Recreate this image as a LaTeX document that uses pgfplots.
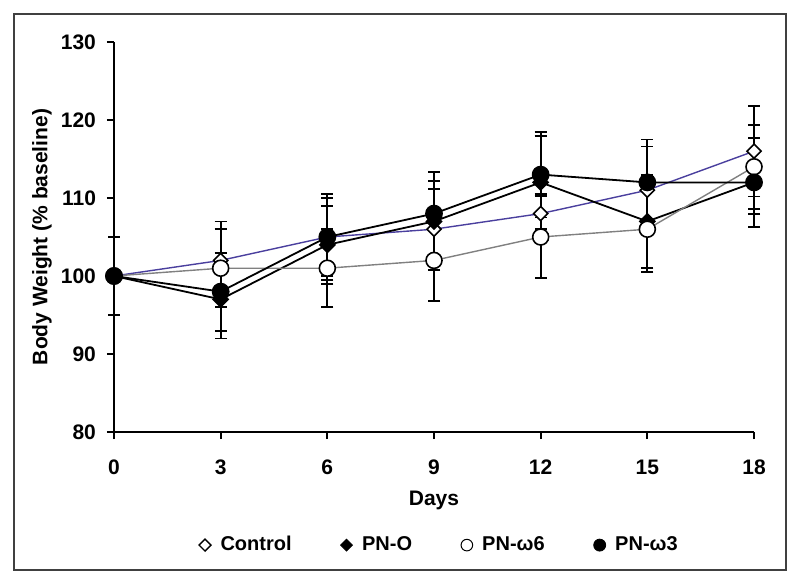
\documentclass[border=0pt]{standalone}
\usepackage{pgfplots}
\pgfplotsset{compat=1.18}
\usepackage{fontspec}
\setmainfont{Liberation Sans}
\definecolor{ctrlblue}{HTML}{4A3F9E}
\begin{document}
\begin{tikzpicture}
\begin{axis}[
  name=ax,
  width=320pt, height=195pt, scale only axis,
  xmin=0, xmax=18, ymin=80, ymax=130,
  xtick={0,3,...,18}, ytick={80,90,...,130},
  axis x line*=bottom, axis y line*=left,
  axis line style={line width=1pt, black},
  tick align=outside, major tick length=3.5pt,
  tick style={line width=1pt, black},
  /pgf/number format/assume math mode=true,
  ticklabel style={font=\fontsize{10.5}{12}\selectfont\bfseries},
  xticklabel style={yshift=-7pt},
  yticklabel style={xshift=-2pt},
  xlabel={Days}, ylabel={Body Weight (\% baseline)},
  label style={font=\fontsize{10.5}{12}\selectfont\bfseries},
  xlabel style={at={(axis description cs:0.5,-0.175)}, anchor=center},
  ylabel style={at={(axis description cs:-0.1125,0.5)}, anchor=center},
  clip=false,
  error bars/error bar style={line width=0.9pt, black},
  error bars/error mark options={rotate=90, mark size=3pt, line width=0.9pt, black},
]
\addplot[ctrlblue, line width=0.7pt, mark=square*, mark size=2.5pt,
  mark options={rotate=45, fill=white, draw=black, line width=0.8pt},
  error bars/.cd, y dir=both, y explicit]
  coordinates {(0,100) +- (0,5) (3,102) +- (0,5) (6,105) +- (0,5.5) (9,106) +- (0,5.2)
   (12,108) +- (0,2.5) (15,111) +- (0,5.6) (18,116) +- (0,5.8)};
\addplot[black, line width=0.9pt, mark=square*, mark size=2.6pt,
  mark options={rotate=45, fill=black, draw=black},
  error bars/.cd, y dir=both, y explicit]
  coordinates {(0,100) +- (0,5) (3,97) +- (0,5) (6,104) +- (0,5) (9,107) +- (0,5.2)
   (12,112) +- (0,6) (15,107) +- (0,6) (18,112) +- (0,4)};
\addplot[gray, line width=0.7pt, mark=*, mark size=4pt,
  mark options={fill=white, draw=black, line width=0.8pt},
  error bars/.cd, y dir=both, y explicit]
  coordinates {(0,100) +- (0,5) (3,101) +- (0,5) (6,101) +- (0,5) (9,102) +- (0,5.2)
   (12,105) +- (0,5.3) (15,106) +- (0,5.5) (18,114) +- (0,5.4)};
\addplot[black, line width=0.9pt, mark=*, mark size=4pt,
  mark options={fill=black, draw=black},
  error bars/.cd, y dir=both, y explicit]
  coordinates {(0,100) +- (0,5) (3,98) +- (0,5) (6,105) +- (0,5) (9,108) +- (0,5.3)
   (12,113) +- (0,5.5) (15,112) +- (0,5.5) (18,112) +- (0,5.7)};
\end{axis}
\begin{axis}[
  width=320pt, height=195pt, scale only axis, at={(ax.south west)}, anchor=south west,
  hide axis, xmin=0, xmax=1, ymin=0, ymax=1,
  legend columns=4,
  legend style={at={(axis description cs:0.51,-0.29)}, anchor=center, draw=none,
    font=\fontsize{10}{12}\selectfont\bfseries, /tikz/every even column/.append style={column sep=22.5pt}},
]
\addlegendimage{only marks, mark=square*, mark size=2.1pt, mark options={rotate=45, fill=white, draw=black, line width=0.7pt}}
\addlegendentry{\ Control}
\addlegendimage{only marks, mark=square*, mark size=2.1pt, mark options={rotate=45, fill=black, draw=black}}
\addlegendentry{\ PN-O}
\addlegendimage{only marks, mark=*, mark size=2.9pt, mark options={fill=white, draw=black, line width=0.5pt}}
\addlegendentry{\ PN-ω6}
\addlegendimage{only marks, mark=*, mark size=3pt, mark options={fill=black, draw=black}}
\addlegendentry{\ PN-ω3}
\end{axis}
\draw[line width=1pt, black!75] ([shift={(-50pt,-69pt)}]ax.south west) rectangle ([shift={(16pt,14pt)}]ax.north east);
\path ([shift={(-57pt,-76pt)}]ax.south west) rectangle ([shift={(23pt,21pt)}]ax.north east);
\end{tikzpicture}
\end{document}
